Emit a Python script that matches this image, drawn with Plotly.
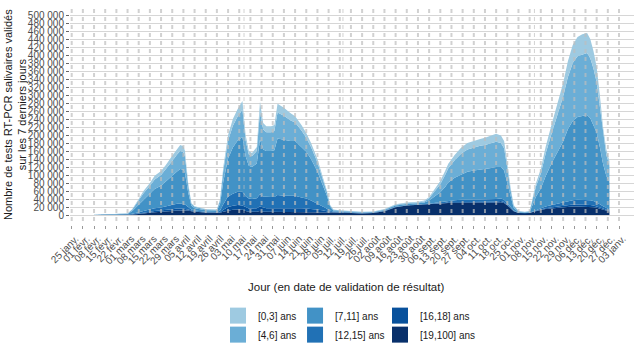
import plotly.graph_objects as go

# ---- data (values in thousands of tests) ----
dates = ["2021-02-08","2021-02-15","2021-02-22","2021-03-01","2021-03-04","2021-03-08","2021-03-11","2021-03-15",
         "2021-03-18","2021-03-22","2021-03-25","2021-03-29","2021-04-01","2021-04-03","2021-04-05","2021-04-06",
         "2021-04-08","2021-04-10","2021-04-12","2021-04-19","2021-04-26","2021-04-28","2021-04-30","2021-05-03",
         "2021-05-06","2021-05-09","2021-05-12","2021-05-14","2021-05-16","2021-05-18","2021-05-21","2021-05-23",
         "2021-05-25","2021-05-27","2021-05-30","2021-06-01","2021-06-03","2021-06-07","2021-06-11","2021-06-14",
         "2021-06-18","2021-06-21","2021-06-24","2021-06-28","2021-07-01","2021-07-04","2021-07-06","2021-07-08",
         "2021-07-12","2021-07-19","2021-07-26","2021-08-02","2021-08-09","2021-08-16","2021-08-23","2021-08-30",
         "2021-09-03","2021-09-06","2021-09-09","2021-09-11","2021-09-13","2021-09-16","2021-09-18","2021-09-22",
         "2021-09-26","2021-09-30","2021-10-04","2021-10-08","2021-10-11","2021-10-14","2021-10-18","2021-10-21",
         "2021-10-23","2021-10-25","2021-10-27","2021-10-29","2021-11-01","2021-11-05","2021-11-08","2021-11-10",
         "2021-11-12","2021-11-15","2021-11-18","2021-11-22","2021-11-25","2021-11-29","2021-12-02","2021-12-05",
         "2021-12-08","2021-12-11","2021-12-14","2021-12-16","2021-12-18","2021-12-20","2021-12-22","2021-12-24",
         "2021-12-26","2021-12-28"]

age_0_3 = [0.05,0.1,0.2,0.4,1.5,4,5.5,7,9,10,11,13,14,15,15,14,6,2,1.5,1,1,3,9,14,
           17,19,22,13,9,8,10,24,16,15,15,15,22,20,18,16,14,12,10,8,6,3.5,1.5,1,
           1,1,0.8,0.8,1,1.5,1.5,1.5,2,3,5,6,8,10,11,13,15,16,17,17,18,19,20,19,
           18,12,6,2,0.8,0.6,0.8,4,8,11,17,23,28,34,40,45,48,50,50,48,44,38,30,20,
           14,11]
age_4_6 = [0.1,0.2,0.4,0.9,3.5,10,15,20,24,27,31,37,42,45,44,41,18,5,3.5,2,2,9,27,45,
           54,60,68,40,28,27,31,70,50,47,47,48,65,60,52,46,40,35,30,23,16,9,3,1.5,
           1.5,1.5,1,1,1.5,2,2,2,3,6,12,16,20,30,36,44,52,56,58,60,60,62,63,60,
           56,38,18,5,1.5,1.2,1.5,14,26,38,56,76,92,112,130,145,152,154,155,150,140,126,100,72,
           52,42]
age_7_11 = [0.2,0.4,0.8,1.7,7,19,29,39,48,54,61,73,81,86,85,79,36,9,6,4,3.5,17,57,95,
            116,128,137,100,82,80,87,137,118,115,115,117,141,140,137,137,127,117,104,80,56,32,10,3,
            2,1.5,1.2,1.2,2,3,3,3,4,8,15,19,25,36,45,56,63,69,72,74,76,78,80,79,
            73,50,26,7,2,1.6,2,18,33,49,76,106,127,153,180,198,207,210,212,205,191,174,143,106,
            82,68]
age_12_15 = [0.05,0.1,0.2,0.3,1,3,4,6,7,8,9,10.5,12,12.5,12,11,6,3,2,1.5,1.5,4,14,26,
             30,33,34,28,25,24,25,31,28,28,28,28,32,30,30,30,27,25,21,15,10,6,2.5,1.5,
             1,0.5,0.5,0.5,0.5,0.5,0.5,0.5,0.5,1,2,2,3,4,4,5,5,5.5,5.5,5.5,6,6,6,6,
             5.5,4,2,1,0.5,0.4,0.5,1,2,3,4,6,7,8,10,11,12,12,12,12,11,10,8,6,
             4.5,4]
age_16_18 = [0.02,0.05,0.1,0.2,0.5,1.5,2,2.5,3,3.5,4,4.5,5,5,5,4.5,3,1.5,1,0.5,0.5,1.5,5,9,
             10,11,11,9,8,8,9,11,10,9,9,9,10,10,10,10,9,8,7,6,4,2.5,1.5,1,
             0.5,0.5,0.5,0.5,0.5,0.5,0.5,0.5,0.5,0.5,1,1,1,1.5,2,2,2.5,2.5,2.5,2.5,2.5,3,3,3,
             2.5,2,1,0.5,0.2,0.2,0.2,0.5,1,1.5,2,2.5,3,3.5,4,4.5,5,5,5,5,4.5,4,3.5,2.5,
             2,1.5]
age_19_100 = [0.08,0.15,0.3,0.5,1.5,2.5,4.5,5.5,7,7.5,9,10,11,11.5,11,10.5,11,9.5,8,6,5.5,5.5,8,11,
              13,14,13,10,8,8,8,10,8,8,8,8,8,8,8,8,8,8,8,8,8,7,6.5,6,
              6,5,4,5,9.5,19.5,23.5,25.5,26,26.5,27,28,28,28.5,30,30,30.5,31,31,31,30.5,30,31,32,
              30,24,17,9.5,5,4,5,7.5,10,12.5,15,16.5,18,19.5,21,21.5,21,21,21,20,19.5,18,15.5,13.5,
              10.5,8.5]

groups = ["[0,3] ans", "[4,6] ans", "[7,11] ans", "[12,15] ans", "[16,18] ans", "[19,100] ans"]
series = [age_0_3, age_4_6, age_7_11, age_12_15, age_16_18, age_19_100]
colors = ["#9ecae1", "#6baed6", "#4292c6", "#2171b5", "#08519c", "#08306b"]

tick_dates = ["2021-01-25","2021-02-01","2021-02-08","2021-02-15","2021-02-22","2021-03-01","2021-03-08",
              "2021-03-15","2021-03-22","2021-03-29","2021-04-05","2021-04-12","2021-04-19","2021-04-26",
              "2021-05-03","2021-05-10","2021-05-17","2021-05-24","2021-05-31","2021-06-07","2021-06-14",
              "2021-06-21","2021-06-28","2021-07-05","2021-07-12","2021-07-19","2021-07-26","2021-08-02",
              "2021-08-09","2021-08-16","2021-08-23","2021-08-30","2021-09-06","2021-09-13","2021-09-20",
              "2021-09-27","2021-10-04","2021-10-11","2021-10-18","2021-10-25","2021-11-01","2021-11-08",
              "2021-11-15","2021-11-22","2021-11-29","2021-12-06","2021-12-13","2021-12-20","2021-12-27",
              "2022-01-03"]
tick_text = ["25 janv.","01 févr.","08 févr.","15 févr.","22 févr.","01 mars","08 mars","15 mars","22 mars",
             "29 mars","05 avril","12 avril","19 avril","26 avril","03 mai","10 mai","17 mai","24 mai","31 mai",
             "07 juin","14 juin","21 juin","28 juin","05 juil.","12 juil.","19 juil.","26 juil.","02 août",
             "09 août","16 août","23 août","30 août","06 sept.","13 sept.","20 sept.","27 sept.","04 oct.",
             "11 oct.","18 oct.","25 oct.","01 nov.","08 nov.","15 nov.","22 nov.","29 nov.","06 déc.",
             "13 déc.","20 déc.","27 déc.","03 janv."]
holidays = ["2021-05-13", "2021-07-14", "2021-11-11"]

y_ticks = list(range(0, 500001, 20000))
y_labels = [f"{v:,}".replace(",", " ") for v in y_ticks]

fig = go.Figure()

# stacked areas: bottom layer first
for name, vals, col in reversed(list(zip(groups, series, colors))):
    fig.add_trace(go.Scatter(
        x=dates, y=[v * 1000 for v in vals], name=name, stackgroup="one",
        mode="lines", line=dict(width=0, color=col), fillcolor=col,
        showlegend=False, hoverinfo="skip"))

# legend keys: three columns of two
legend_ids = ["legend", "legend", "legend2", "legend2", "legend3", "legend3"]
for name, col, lg in zip(groups, colors, legend_ids):
    fig.add_trace(go.Scatter(
        x=[None], y=[None], name=name, mode="markers",
        marker=dict(symbol="square", size=16, color=col, line=dict(width=0)),
        legend=lg, showlegend=True))

grid_line = dict(color="rgba(190,190,190,0.7)", width=2, dash="4px,4px")
for d in tick_dates:
    fig.add_shape(type="line", xref="x", yref="y", x0=d, x1=d, y0=-35000, y1=525000,
                  line=grid_line, layer="above")
for d in holidays:
    fig.add_shape(type="line", xref="x", yref="y", x0=d, x1=d, y0=-35000, y1=525000,
                  line=dict(color="rgba(190,190,190,0.7)", width=1, dash="4px,4px"), layer="above")

font = "Liberation Sans, Arial, sans-serif"
leg_common = dict(orientation="v", yanchor="top", xanchor="left", bgcolor="rgba(0,0,0,0)",
                  traceorder="normal",
                  font=dict(family=font, size=10, color="#1a1a1a"), tracegroupgap=0)

fig.update_layout(
    width=635, height=353,
    margin=dict(l=70, r=1, t=5, b=128),
    paper_bgcolor="white", plot_bgcolor="white",
    font=dict(family=font, size=10, color="#1a1a1a"),
    xaxis=dict(type="date", range=["2021-01-23 22:20", "2022-01-12 09:40"],
               tickvals=tick_dates, ticktext=tick_text, tickangle=-45,
               tickfont=dict(family=font, size=10, color="#4d4d4d"),
               ticklabelshift=4,
               showgrid=False, zeroline=False, showline=False,
               ticks="outside", ticklen=3, tickcolor="#999999", tickwidth=1),
    yaxis=dict(range=[-25000, 525000], tickvals=y_ticks, ticktext=y_labels,
               tickfont=dict(family=font, size=10, color="#4d4d4d"),
               showgrid=True, gridcolor="#d6d6d6", gridwidth=1.3,
               zeroline=False, showline=False,
               ticks="outside", ticklen=3, tickcolor="#666666", tickwidth=1),
    legend=dict(x=0.2624, y=-0.346, **leg_common),
    legend2=dict(x=0.399, y=-0.346, **leg_common),
    legend3=dict(x=0.5496, y=-0.346, **leg_common),
    showlegend=True,
    annotations=[
        dict(text="Jour (en date de validation de résultat)", xref="paper", yref="paper",
             x=0.489, y=-0.2818, xanchor="center", yanchor="middle", showarrow=False,
             font=dict(family=font, size=11.5, color="#1a1a1a")),
        dict(text="Nombre de tests RT-PCR salivaires validés<br>sur les 7 derniers jours",
             xref="paper", yref="paper", x=-0.0975, y=0.5, xanchor="center", yanchor="middle",
             textangle=-90, showarrow=False,
             font=dict(family=font, size=11, color="#1a1a1a")),
    ],
)

fig.write_html("out.html")
